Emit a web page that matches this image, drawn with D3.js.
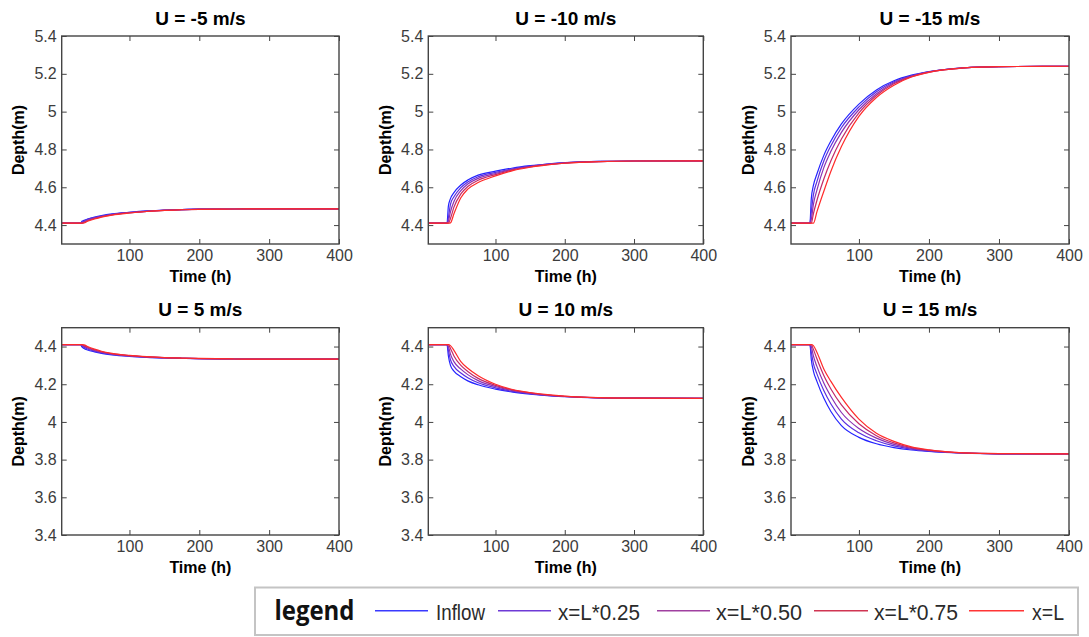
<!DOCTYPE html>
<html>
<head>
<meta charset="utf-8">
<script src="https://cdn.jsdelivr.net/npm/d3@7"></script>
<style>
  body { margin: 0; background: #fff; }
  svg { display: block; }
</style>
</head>
<body>
<svg id="chart" width="1089" height="637"></svg>
<script>
const times = [3, 30, 32, 35, 40, 50, 60, 75, 100, 125, 150, 175, 200, 250, 300, 400];
const seriesNames = ['Inflow', 'x=L*0.25', 'x=L*0.50', 'x=L*0.75', 'x=L'];
const windSpeeds = [-5, -10, -15, 5, 10, 15];
const timeTicks = [100, 200, 300, 400];
const upperTicks = [4.4, 4.6, 4.8, 5, 5.2, 5.4];
const lowerTicks = [3.4, 3.6, 3.8, 4, 4.2, 4.4];

const depthM5 = [
    [4.41, 4.41, 4.42, 4.425, 4.432, 4.442, 4.45, 4.459, 4.468, 4.475, 4.479, 4.482, 4.484, 4.485, 4.486, 4.486],
    [4.41, 4.41, 4.415, 4.422, 4.43, 4.44, 4.448, 4.457, 4.467, 4.474, 4.479, 4.482, 4.484, 4.485, 4.486, 4.486],
    [4.41, 4.41, 4.412, 4.418, 4.427, 4.438, 4.446, 4.456, 4.466, 4.473, 4.478, 4.482, 4.484, 4.485, 4.486, 4.486],
    [4.41, 4.41, 4.41, 4.414, 4.423, 4.435, 4.444, 4.454, 4.465, 4.473, 4.478, 4.481, 4.483, 4.485, 4.486, 4.486],
    [4.41, 4.41, 4.41, 4.411, 4.42, 4.432, 4.442, 4.453, 4.464, 4.472, 4.478, 4.481, 4.483, 4.485, 4.486, 4.486]
];
const depthM10 = [
    [4.41, 4.41, 4.5, 4.54, 4.572, 4.612, 4.638, 4.664, 4.685, 4.702, 4.714, 4.723, 4.73, 4.737, 4.739, 4.74],
    [4.41, 4.41, 4.44, 4.51, 4.55, 4.598, 4.628, 4.656, 4.679, 4.698, 4.712, 4.722, 4.729, 4.737, 4.739, 4.74],
    [4.41, 4.41, 4.42, 4.47, 4.525, 4.582, 4.617, 4.647, 4.673, 4.695, 4.71, 4.721, 4.729, 4.736, 4.739, 4.74],
    [4.41, 4.41, 4.41, 4.435, 4.495, 4.565, 4.604, 4.637, 4.667, 4.692, 4.708, 4.72, 4.728, 4.736, 4.739, 4.74],
    [4.41, 4.41, 4.41, 4.412, 4.46, 4.545, 4.59, 4.625, 4.66, 4.688, 4.706, 4.718, 4.727, 4.736, 4.739, 4.74]
];
const depthM15 = [
    [4.41, 4.41, 4.54, 4.61, 4.67, 4.77, 4.845, 4.935, 5.04, 5.115, 5.163, 5.193, 5.212, 5.232, 5.238, 5.24],
    [4.41, 4.41, 4.47, 4.56, 4.63, 4.74, 4.82, 4.915, 5.025, 5.105, 5.158, 5.19, 5.211, 5.232, 5.238, 5.24],
    [4.41, 4.41, 4.43, 4.51, 4.585, 4.705, 4.79, 4.89, 5.01, 5.095, 5.153, 5.188, 5.21, 5.231, 5.238, 5.24],
    [4.41, 4.41, 4.41, 4.46, 4.53, 4.645, 4.74, 4.855, 4.993, 5.085, 5.147, 5.185, 5.209, 5.231, 5.238, 5.24],
    [4.41, 4.41, 4.41, 4.41, 4.47, 4.58, 4.685, 4.815, 4.975, 5.075, 5.14, 5.183, 5.208, 5.231, 5.238, 5.24]
];
const depthP5 = [
    [4.41, 4.41, 4.398, 4.39, 4.382, 4.372, 4.364, 4.356, 4.348, 4.343, 4.34, 4.338, 4.336, 4.334, 4.333, 4.333],
    [4.41, 4.41, 4.404, 4.396, 4.387, 4.376, 4.367, 4.358, 4.349, 4.344, 4.34, 4.338, 4.336, 4.334, 4.333, 4.333],
    [4.41, 4.41, 4.408, 4.401, 4.392, 4.379, 4.37, 4.36, 4.351, 4.345, 4.341, 4.338, 4.336, 4.334, 4.333, 4.333],
    [4.41, 4.41, 4.41, 4.405, 4.396, 4.383, 4.372, 4.362, 4.352, 4.345, 4.341, 4.338, 4.336, 4.334, 4.333, 4.333],
    [4.41, 4.41, 4.41, 4.409, 4.4, 4.386, 4.375, 4.364, 4.353, 4.346, 4.341, 4.339, 4.337, 4.334, 4.333, 4.333]
];
const depthP10 = [
    [4.41, 4.41, 4.35, 4.3, 4.27, 4.24, 4.218, 4.197, 4.174, 4.158, 4.147, 4.139, 4.134, 4.128, 4.126, 4.125],
    [4.41, 4.41, 4.38, 4.33, 4.295, 4.26, 4.235, 4.208, 4.181, 4.162, 4.15, 4.141, 4.135, 4.128, 4.126, 4.125],
    [4.41, 4.41, 4.4, 4.36, 4.32, 4.28, 4.251, 4.219, 4.188, 4.166, 4.152, 4.142, 4.135, 4.128, 4.126, 4.125],
    [4.41, 4.41, 4.41, 4.39, 4.35, 4.3, 4.268, 4.231, 4.194, 4.169, 4.154, 4.143, 4.136, 4.129, 4.126, 4.125],
    [4.41, 4.41, 4.41, 4.405, 4.38, 4.32, 4.285, 4.245, 4.2, 4.172, 4.156, 4.145, 4.137, 4.129, 4.126, 4.125]
];
const depthP15 = [
    [4.41, 4.41, 4.33, 4.27, 4.215, 4.125, 4.055, 3.98, 3.918, 3.884, 3.864, 3.851, 3.843, 3.834, 3.831, 3.83],
    [4.41, 4.41, 4.37, 4.31, 4.255, 4.165, 4.095, 4.015, 3.942, 3.9, 3.873, 3.856, 3.845, 3.835, 3.831, 3.83],
    [4.41, 4.41, 4.4, 4.35, 4.295, 4.205, 4.135, 4.05, 3.965, 3.914, 3.881, 3.86, 3.847, 3.835, 3.831, 3.83],
    [4.41, 4.41, 4.41, 4.385, 4.335, 4.245, 4.175, 4.09, 3.99, 3.927, 3.889, 3.864, 3.85, 3.836, 3.832, 3.83],
    [4.41, 4.41, 4.41, 4.405, 4.37, 4.28, 4.215, 4.13, 4.015, 3.94, 3.897, 3.868, 3.852, 3.836, 3.832, 3.83]
];
const panelDepths = [depthM5, depthM10, depthM15, depthP5, depthP10, depthP15];

const lineColors = ['#2424ff', '#5a2ee0', '#8a32b4', '#c22a6a', '#ff2a2a'];
const legendColors = ['#3a3aff', '#6e3ad6', '#a040a0', '#d03552', '#ff3535'];

const colLeft = [61.7, 428.3, 791];
const colRight = [339, 703.3, 1069];
const rowTop = [36, 327.7];
const rowBottom = [244, 535];

const svg = d3.select('#chart');
const defs = svg.append('defs');

const drawPanel = (depths, i) => {
    const col = i % 3;
    const row = Math.floor(i / 3);
    const left = colLeft[col], right = colRight[col];
    const top = rowTop[row], bottom = rowBottom[row];
    const yTicks = row === 0 ? upperTicks : lowerTicks;

    const x = d3.scaleLinear().domain([3, 400]).range([left, right]);
    const y = d3.scaleLinear()
        .domain(row === 0 ? [4.3, 5.4] : [3.4, 4.5])
        .range([bottom, top]);

    const g = svg.append('g');
    const clipId = `clip${i}`;
    defs.append('clipPath').attr('id', clipId)
        .append('rect')
        .attr('x', left).attr('y', top)
        .attr('width', right - left).attr('height', bottom - top);

    const line = d3.line()
        .x((d, k) => x(times[k]))
        .y(d => y(d))
        .curve(d3.curveMonotoneX);

    g.append('g')
        .attr('clip-path', `url(#${clipId})`)
        .selectAll('path')
        .data(depths)
        .join('path')
        .attr('d', line)
        .attr('fill', 'none')
        .attr('stroke', (d, k) => lineColors[k])
        .attr('stroke-width', 1.2);

    // matlab style box, ticks pointing inward on every side
    const tickLen = 5;
    const axisStyle = sel => {
        sel.select('.domain').remove();
        sel.selectAll('.tick line').attr('stroke', '#444').attr('stroke-width', 1);
    };
    g.append('g').attr('transform', `translate(0,${bottom})`)
        .call(d3.axisBottom(x).tickValues(timeTicks).tickSize(-tickLen).tickFormat(d3.format('d')).tickPadding(6))
        .call(axisStyle);
    g.append('g').attr('transform', `translate(0,${top})`)
        .call(d3.axisTop(x).tickValues(timeTicks).tickSize(-tickLen).tickFormat(''))
        .call(axisStyle);
    g.append('g').attr('transform', `translate(${left},0)`)
        .call(d3.axisLeft(y).tickValues(yTicks).tickSize(-tickLen).tickFormat(d3.format('~g')).tickPadding(5))
        .call(axisStyle);
    g.append('g').attr('transform', `translate(${right},0)`)
        .call(d3.axisRight(y).tickValues(yTicks).tickSize(-tickLen).tickFormat(''))
        .call(axisStyle);

    g.selectAll('.tick text')
        .attr('font-family', 'Arial, "Liberation Sans", sans-serif')
        .attr('font-size', 16)
        .attr('fill', '#3c3c3c');

    g.append('rect')
        .attr('x', left).attr('y', top)
        .attr('width', right - left).attr('height', bottom - top)
        .attr('fill', 'none')
        .attr('stroke', '#444')
        .attr('stroke-width', 1.4);

    g.append('text')
        .attr('x', (left + right) / 2).attr('y', top - 18)
        .attr('text-anchor', 'middle').attr('dominant-baseline', 'central')
        .attr('font-family', 'Arial, "Liberation Sans", sans-serif')
        .attr('font-weight', 'bold').attr('font-size', 19)
        .text(`U = ${windSpeeds[i]} m/s`);

    g.append('text')
        .attr('x', (left + right) / 2).attr('y', bottom + 32)
        .attr('text-anchor', 'middle').attr('dominant-baseline', 'central')
        .attr('font-family', 'Arial, "Liberation Sans", sans-serif')
        .attr('font-weight', 'bold').attr('font-size', 16)
        .text('Time (h)');

    g.append('text')
        .attr('transform', `translate(${left - 43},${(top + bottom) / 2}) rotate(-90)`)
        .attr('text-anchor', 'middle').attr('dominant-baseline', 'central')
        .attr('font-family', 'Arial, "Liberation Sans", sans-serif')
        .attr('font-weight', 'bold').attr('font-size', 16)
        .text('Depth(m)');
};

panelDepths.forEach(drawPanel);

// legend box along the bottom
const legendItems = [
    { x1: 375, x2: 428, tx: 436, tw: 49 },
    { x1: 498, x2: 551, tx: 558, tw: 82 },
    { x1: 657, x2: 710, tx: 716, tw: 86 },
    { x1: 814, x2: 868, tx: 874, tw: 84 },
    { x1: 969, x2: 1024, tx: 1032, tw: 32 }
];
const legend = svg.append('g');
legend.append('rect')
    .attr('x', 255).attr('y', 587.5)
    .attr('width', 823).attr('height', 47.5)
    .attr('fill', '#fff')
    .attr('stroke', '#c4c4c4')
    .attr('stroke-width', 2);
legend.append('text')
    .attr('x', 274.5).attr('y', 620)
    .attr('font-family', '"Open Sans", "Liberation Sans", sans-serif')
    .attr('font-weight', 'bold').attr('font-size', 26)
    .attr('fill', '#111')
    .attr('textLength', 80).attr('lengthAdjust', 'spacingAndGlyphs')
    .text('legend');

const item = legend.selectAll('g.item')
    .data(seriesNames)
    .join('g')
    .attr('class', 'item');
item.append('line')
    .attr('x1', (d, k) => legendItems[k].x1)
    .attr('x2', (d, k) => legendItems[k].x2)
    .attr('y1', 610.7).attr('y2', 610.7)
    .attr('stroke', (d, k) => legendColors[k])
    .attr('stroke-width', 1.6);
item.append('text')
    .attr('x', (d, k) => legendItems[k].tx)
    .attr('y', 619.5)
    .attr('font-family', '"Liberation Sans Narrow", "Arial Narrow", "Liberation Sans", sans-serif')
    .attr('font-size', 22)
    .attr('fill', '#2a2a2a')
    .attr('textLength', (d, k) => legendItems[k].tw)
    .attr('lengthAdjust', 'spacingAndGlyphs')
    .text(d => d);
</script>
</body>
</html>
